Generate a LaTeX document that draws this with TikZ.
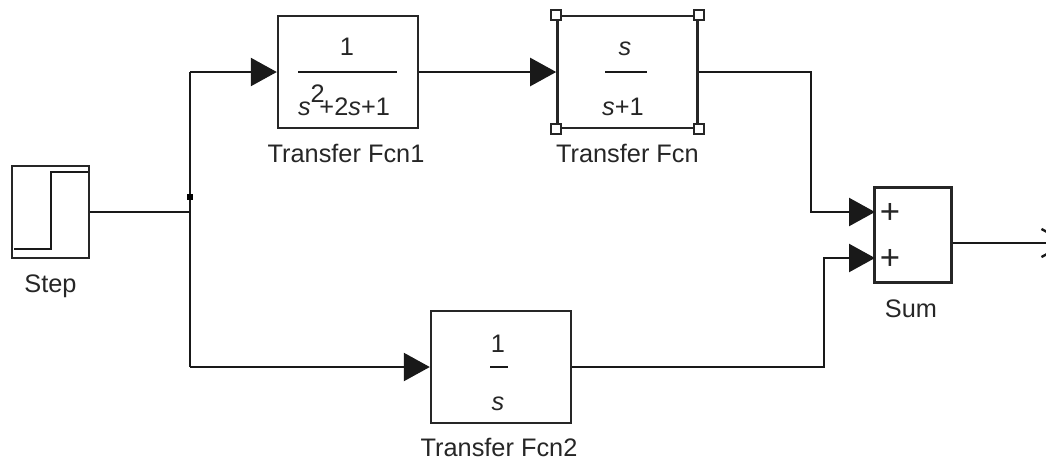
\documentclass[tikz,border=0pt]{standalone}
\usepackage{fontspec}
\setmainfont{Liberation Sans}
\usetikzlibrary{positioning,arrows.meta}
\newlength{\pxl}
\setlength{\pxl}{0.75pt}
\begin{document}
\begin{tikzpicture}[
        x=\pxl,
        y=-\pxl,
        every node/.style={font=\fontsize{19}{21}\selectfont},
        block/.style={
                rectangle,
                draw=black!85,
                line width=1.8pt,
                inner sep=0pt,
                minimum width=140\pxl,
                minimum height=112\pxl
            },
        smallblock/.style={
                block,
                minimum width=77\pxl,
                minimum height=95\pxl
            },
        handle/.style={
                rectangle,
                draw=black!85,
                line width=1.5pt,
                fill=white,
                inner sep=0pt,
                minimum size=10\pxl
            },
        caption/.style={inner sep=0pt,text=black!85},
        term/.style={inner sep=0pt,anchor=base,text=black!85},
        bigterm/.style={term,font=\fontsize{26}{28}\selectfont},
        wire/.style={draw=black!90,line width=1.8pt},
        >={Triangle[length=19.5pt,width=21pt]},
        signal/.style={wire,->,shorten >=0pt}
    ]
    \useasboundingbox (0,0) rectangle (1046,462);

    \node[smallblock,minimum height=92\pxl] (Step) at (50.5,212) {};
    \node[block] (Fcn1) at (348,72) {};
    \node[block] (Fcn) [right=137\pxl of Fcn1] {};
    \node[block] (Fcn2) at (501,367) {};
    \node[smallblock] (Sum) at (913,235) {};

    \node[caption] (StepLabel) [below=15\pxl of Step] {Step};
    \node[caption] (Fcn1Label) [below=15\pxl of Fcn1,xshift=-1.5pt] {Transfer Fcn1};
    \node[caption] (FcnLabel) [below=15\pxl of Fcn] {Transfer Fcn};
    \node[caption] (Fcn2Label) [below=14\pxl of Fcn2,xshift=-1.5pt] {Transfer Fcn2};
    \node[caption] (SumLabel) [below=16\pxl of Sum,xshift=-1.5pt] {Sum};

    \node[term] (Num1) at (347,55) {1};
    \node[term] (Den1) at (344,115) {\textit{s}\raisebox{13\pxl}{2}\kern-4pt+2\textit{s}+1};
    \node[term] (Num) at (625,55) {\textit{s}};
    \node[term] (Den) at (623,115) {\textit{s}+1};
    \node[term] (Num2) at (498,352) {1};
    \node[term] (Den2) at (498,410) {\textit{s}};
    \node[bigterm] (Plus1) at (890,223) {+};
    \node[bigterm] (Plus2) at (890,269) {+};

    \foreach \corner in {north west,north east,south west,south east}
        \node[handle] at (Fcn.\corner) {};

    \coordinate (Branch) at (190,212);
    \coordinate (Dot) at (190,197);
    \coordinate (Out) at (1070,243);
    \coordinate (BendA) at (811,72);
    \coordinate (BendB) at (824,367);
    \coordinate (SumIn1) at (875,212);
    \coordinate (SumIn2) at (875,258);

    % step icon
    \draw[wire] (14,249) -- (51,249) -- (51,172) -- (88,172);

    % fraction bars
    \draw[wire] (298,72) -- (397,72);
    \draw[wire] (605,72) -- (647,72);
    \draw[wire] (490,367) -- (508,367);

    \draw[wire] (Step.east |- Branch) -- (Branch);
    \draw[wire] (Branch |- Fcn1.west) -- (Branch |- Fcn2.west);
    \fill[black] (Dot) +(-3,-3) rectangle +(3,3);
    \path[signal] (Branch |- Fcn1.west) -- (Fcn1.west);
    \path[signal] (Branch |- Fcn2.west) -- (Fcn2.west);
    \path[signal] (Fcn1.east) -- (Fcn.west);
    \path[signal] (Fcn.east) -- (BendA) -- (BendA |- SumIn1) -- (SumIn1);
    \path[signal] (Fcn2.east) -- (BendB) -- (BendB |- SumIn2) -- (SumIn2);
    \path[wire,-{Straight Barb[length=19.5pt,width=21pt]}] (Sum.east |- Out) -- (Out);
\end{tikzpicture}
\end{document}
